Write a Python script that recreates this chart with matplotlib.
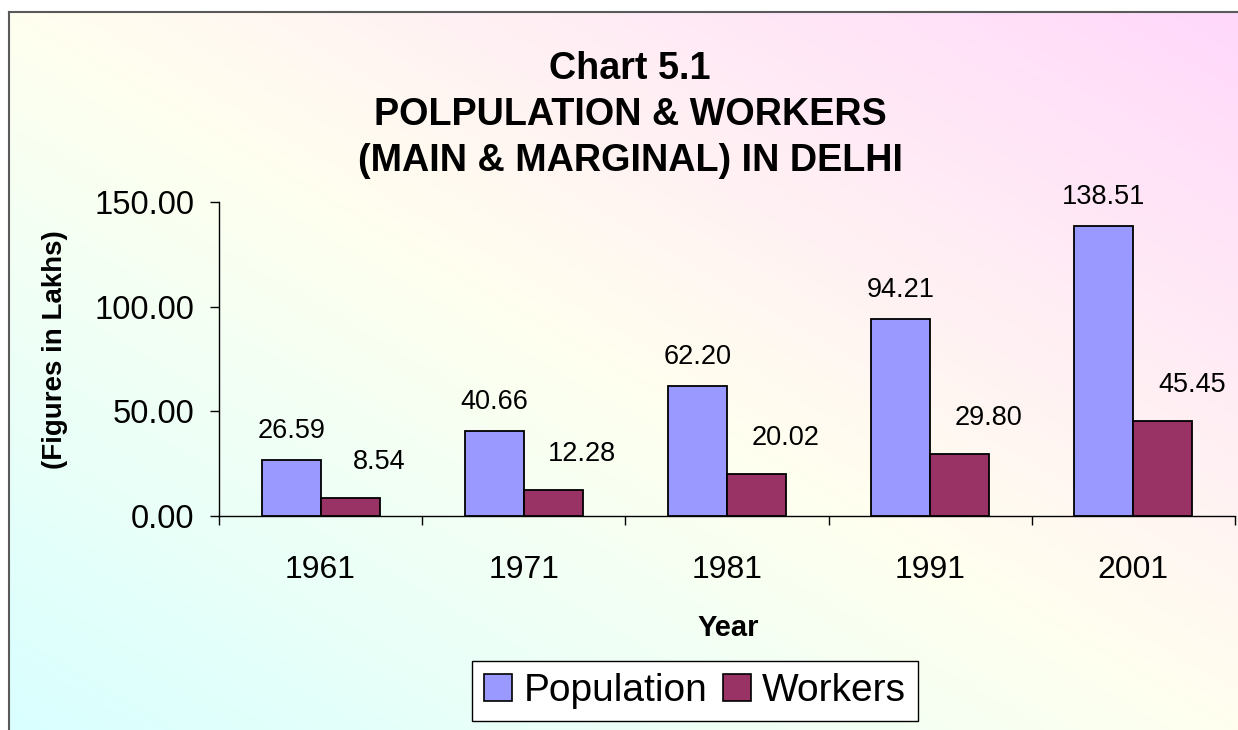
import numpy as np
import matplotlib
matplotlib.use("Agg")
import matplotlib.pyplot as plt
from matplotlib.colors import LinearSegmentedColormap
from matplotlib.ticker import FormatStrFormatter
from matplotlib.patches import Patch

plt.rcParams['font.family'] = ['Liberation Sans', 'DejaVu Sans']

# ---- data ----
years = ["1961", "1971", "1981", "1991", "2001"]
population = [26.59, 40.66, 62.20, 94.21, 138.51]
workers = [8.54, 12.28, 20.02, 29.80, 45.45]
series_names = ["Population", "Workers"]
title_lines = ["Chart 5.1", "POLPULATION & WORKERS", "(MAIN & MARGINAL) IN DELHI"]
y_ticks = [0, 50, 100, 150]

W, H = 1238, 730
fig = plt.figure(figsize=(W / 100, H / 100), dpi=100)
fig.patch.set_facecolor("white")

# ---- gradient background with frame ----
bg = fig.add_axes([9 / W, 0, 1 - 9 / W, 1 - 12 / H])
cmap = LinearSegmentedColormap.from_list(
    "bg", [(0.0, "#D9FFFF"), (0.5, "#FFFFEF"), (1.0, "#FFD8FB")])
nx, ny = 400, 240
xx, yy = np.meshgrid(np.linspace(0, 1, nx), np.linspace(0, 1, ny))
grad = (xx + yy) / 2
bg.imshow(grad, cmap=cmap, origin="lower", aspect="auto",
          extent=[0, 1, 0, 1], vmin=0, vmax=1)
bg.set_xlim(0, 1)
bg.set_ylim(0, 1)
bg.set_xticks([])
bg.set_yticks([])
for s in ["right", "bottom"]:
    bg.spines[s].set_visible(False)
for s in ["left", "top"]:
    bg.spines[s].set_color("#5a5a5a")
    bg.spines[s].set_linewidth(1.5)

# ---- main axes ----
ax = fig.add_axes([219 / W, 1 - 516 / H, (1235 - 219) / W, (516 - 202) / H])
ax.set_zorder(2)
ax.patch.set_alpha(0)

x = np.arange(len(years))
w = 0.29
pop_color = "#9999FF"
wrk_color = "#993366"
ax.bar(x - w / 2, population, w, color=pop_color, edgecolor="black", linewidth=1.3, zorder=3)
ax.bar(x + w / 2, workers, w, color=wrk_color, edgecolor="black", linewidth=1.3, zorder=3)

for xi, v in zip(x, population):
    ax.annotate(f"{v:.2f}", (xi - w / 2, v), xytext=(0, 21), textcoords="offset points",
                ha="center", va="center", fontsize=19.5)
for xi, v in zip(x, workers):
    ax.annotate(f"{v:.2f}", (xi + w / 2, v), xytext=(21, 26), textcoords="offset points",
                ha="center", va="center", fontsize=19.5)

ax.set_xlim(-0.5, len(years) - 0.5)
ax.set_ylim(0, 150)
ax.set_yticks(y_ticks)
ax.yaxis.set_major_formatter(FormatStrFormatter("%.2f"))
ax.tick_params(axis="y", direction="out", length=6.5, width=1, labelsize=23.5, pad=11)

ax.set_xticks(x)
ax.set_xticklabels(years)
ax.set_xticks(np.arange(-0.5, len(years)), minor=True)
ax.tick_params(axis="x", which="major", length=0, labelsize=23, pad=28)
ax.tick_params(axis="x", which="minor", direction="out", length=6.5, width=1)

for s in ["top", "right"]:
    ax.spines[s].set_visible(False)
for s in ["left", "bottom"]:
    ax.spines[s].set_color("black")
    ax.spines[s].set_linewidth(1)

# ---- texts ----
fig.text(630 / W, 1 - 115 / H, "\n".join(title_lines), ha="center", va="center",
         fontsize=27.2, fontweight="bold", linespacing=1.37, zorder=5)
fig.text(55 / W, 1 - 350 / H, "(Figures in Lakhs)", rotation=90, ha="center", va="center",
         fontsize=20, fontweight="bold", zorder=5)
fig.text(728 / W, 1 - 628 / H, "Year", ha="center", va="center",
         fontsize=21, fontweight="bold", zorder=5)

handles = [Patch(facecolor=pop_color, edgecolor="black", linewidth=1.2),
           Patch(facecolor=wrk_color, edgecolor="black", linewidth=1.2)]
leg = fig.legend(handles, series_names, loc="center", bbox_to_anchor=(695 / W, 1 - 691 / H),
                 ncol=2, fontsize=28, frameon=True, fancybox=False, framealpha=1,
                 edgecolor="black", facecolor="white", handlelength=0.72, handleheight=0.7,
                 handletextpad=0.3, columnspacing=0.4, borderpad=0.3, borderaxespad=0)
leg.get_frame().set_linewidth(1)
leg.set_zorder(6)

fig.savefig("out.png", dpi=100)
